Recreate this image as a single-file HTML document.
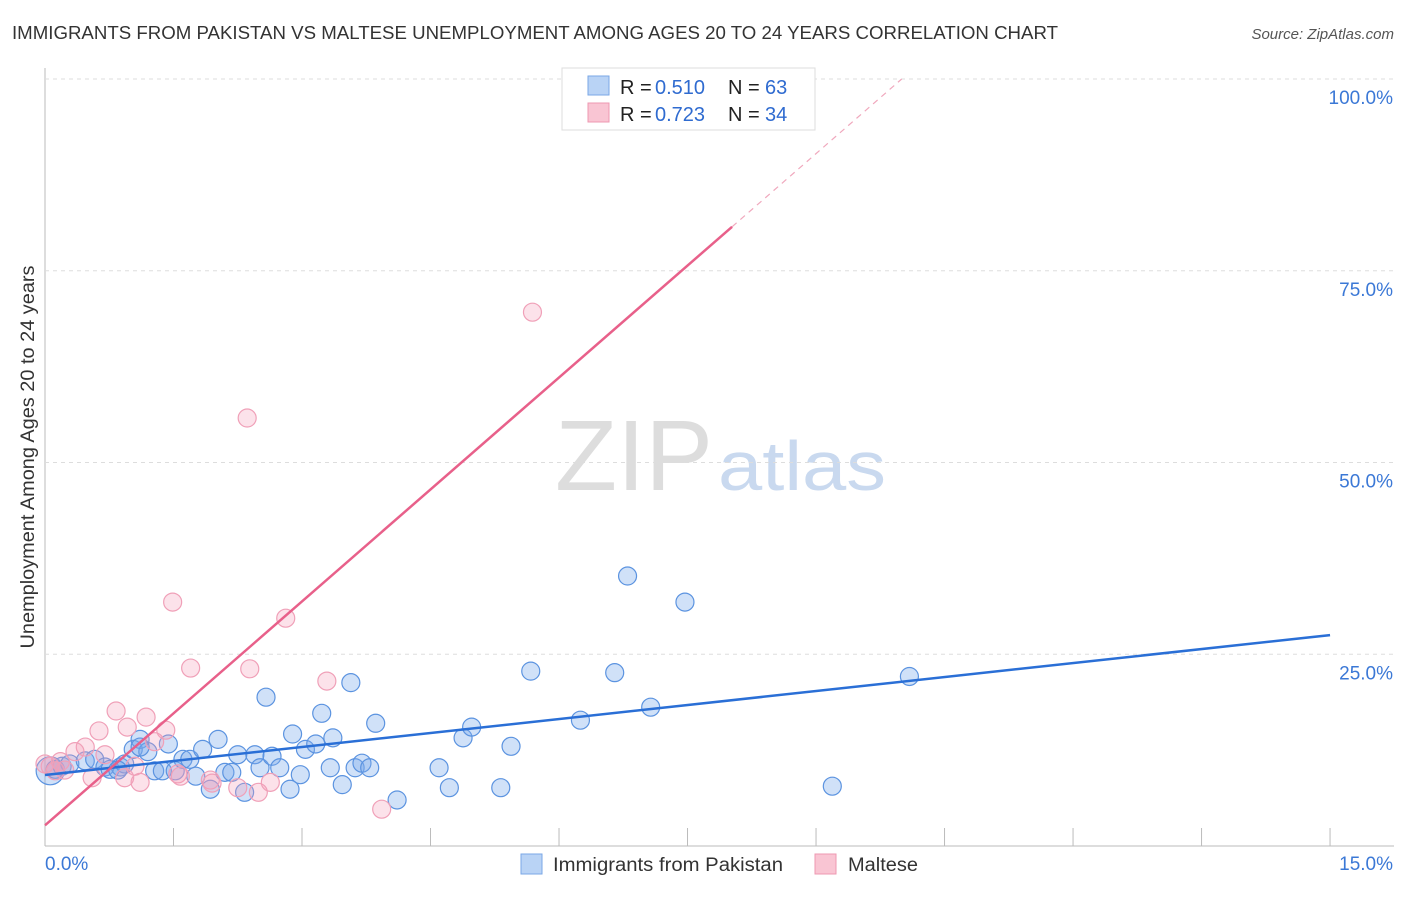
<!DOCTYPE html>
<html><head><meta charset="utf-8"><style>
body{margin:0;background:#fff;font-family:"Liberation Sans",sans-serif;}
svg text{font-family:"Liberation Sans",sans-serif;}
</style></head><body>
<svg id="chart" width="1406" height="892">
<text x="12" y="39" font-size="18" fill="#333" textLength="1046" lengthAdjust="spacingAndGlyphs">IMMIGRANTS FROM PAKISTAN VS MALTESE UNEMPLOYMENT AMONG AGES 20 TO 24 YEARS CORRELATION CHART</text>
<text x="1394" y="39" font-size="15" fill="#555" font-style="italic" text-anchor="end">Source: ZipAtlas.com</text>
<text x="555" y="490" font-size="100" fill="#ddd" font-family="Liberation Serif" textLength="158" lengthAdjust="spacingAndGlyphs">ZIP</text>
<text x="718" y="490" font-size="70" fill="#c9d9ef" textLength="168" lengthAdjust="spacingAndGlyphs">atlas</text>
<text transform="translate(34,457) rotate(-90)" font-size="19" fill="#333" text-anchor="middle" textLength="383" lengthAdjust="spacingAndGlyphs">Unemployment Among Ages 20 to 24 years</text>
<g id="grid"></g><g id="pts"></g><g id="lines"></g>
<g>
<rect x="562" y="68" width="253" height="62" fill="#fff" stroke="#ddd"/>
<rect x="588" y="76" width="21" height="19" fill="#b9d3f5" stroke="#7aa7e6"/>
<rect x="588" y="103" width="21" height="19" fill="#f9c5d3" stroke="#ee98b1"/>
<text x="620" y="94" font-size="20" fill="#222">R =</text>
<text x="655" y="94" font-size="20" fill="#2f6bd0">0.510</text>
<text x="728" y="94" font-size="20" fill="#222">N =</text>
<text x="765" y="94" font-size="20" fill="#2f6bd0">63</text>
<text x="620" y="121" font-size="20" fill="#222">R =</text>
<text x="655" y="121" font-size="20" fill="#2f6bd0">0.723</text>
<text x="728" y="121" font-size="20" fill="#222">N =</text>
<text x="765" y="121" font-size="20" fill="#2f6bd0">34</text>
</g>
<g>
<rect x="521" y="854" width="21" height="20" fill="#b9d3f5" stroke="#7aa7e6"/>
<text x="553" y="871" font-size="19" fill="#333" textLength="230" lengthAdjust="spacingAndGlyphs">Immigrants from Pakistan</text>
<rect x="815" y="854" width="21" height="20" fill="#f9c5d3" stroke="#ee98b1"/>
<text x="848" y="871" font-size="19" fill="#333" textLength="70" lengthAdjust="spacingAndGlyphs">Maltese</text>
</g>
</svg>
<script>
const xTickLabels=["0.0%","15.0%"];
const yTicks=[25,50,75,100];
const blueX=[0.06,0.12,0.2,0.29,0.47,0.58,0.70,0.76,0.88,0.93,1.03,1.11,1.20,1.28,1.37,1.44,1.52,1.61,1.69,1.76,1.84,1.93,2.02,2.10,2.18,2.25,2.33,2.45,2.51,2.58,2.65,2.74,2.86,2.89,2.98,3.04,3.16,3.23,3.33,3.36,3.47,3.57,3.62,3.70,3.79,3.86,4.11,4.60,4.72,4.88,4.98,5.32,5.44,5.67,6.25,6.65,6.80,7.07,7.47,9.19,10.09,1.11,0.85];
const blueY=[9.8,10.0,10.4,10.7,11.1,11.3,10.3,10.0,10.3,10.7,12.6,13.9,12.3,9.8,9.8,13.3,9.8,11.3,11.3,9.1,12.6,7.4,13.9,9.6,9.6,11.9,7.0,11.9,10.2,19.4,11.7,10.2,7.4,14.6,9.3,12.6,13.3,17.3,10.2,14.1,8.0,21.3,10.2,10.8,10.2,16.0,6.0,10.2,7.6,14.1,15.5,7.6,13.0,22.8,16.4,22.6,35.2,18.1,31.8,7.8,22.1,12.9,9.9];
const pinkX=[6.20,5.69,2.36,1.49,2.81,1.70,2.39,3.29,0.83,1.18,0.63,1.41,0.96,0.47,0.35,0.70,0.18,0.06,0.12,0.55,0.93,1.11,1.28,1.55,1.93,2.25,2.49,2.63,3.93,1.95,0.0,0.23,1.05,1.58];
const pinkY=[100,69.6,55.8,31.8,29.7,23.2,23.1,21.5,17.6,16.8,15.0,15.1,15.5,12.9,12.3,11.9,11.0,10.4,9.8,8.9,8.9,8.3,13.6,9.4,8.6,7.6,7.0,8.3,4.8,8.2,10.7,9.9,10.4,9.1];
const blueFit=[9.26,27.5];
const pinkFit=[2.7,9.73];
const X=v=>45+v*85.67, Y=v=>846-v*7.67;
const NS="http://www.w3.org/2000/svg";
function mk(t,a,p){const e=document.createElementNS(NS,t);for(const k in a)e.setAttribute(k,a[k]);p.appendChild(e);return e;}
const g=document.getElementById('grid');
const ax=mk('line',{x1:45,y1:68,x2:45,y2:846,stroke:'#bbb'},g);


const bx=mk('line',{x1:45,y1:846,x2:1394,y2:846,stroke:'#bbb'},g);


yTicks.forEach(t=>{
 const l=mk('line',{x1:45,y1:Y(t),x2:1394,y2:Y(t),stroke:'#ddd','stroke-dasharray':'4,4'},g);
 
 
 const tx=mk('text',{x:1393,y:Y(t)+25,'font-size':19,fill:'#3b78d6','text-anchor':'end'},g);
 tx.textContent=t.toFixed(1)+'%';
 
 
});
for(let i=1;i<=10;i++){
 const tk=mk('line',{x1:X(i*1.5),y1:828,x2:X(i*1.5),y2:846,stroke:'#bbb'},g);
 
 
}
[[0,45,'start'],[15,1393,'end']].forEach((d,i)=>{
 const tx=mk('text',{x:d[1],y:870,'font-size':19,fill:'#3b78d6','text-anchor':d[2]},g);
 tx.textContent=xTickLabels[i];
 
 
});
const p=document.getElementById('pts');
blueX.forEach((x,i)=>{
 const c=mk('circle',{cx:X(x),cy:Y(blueY[i]),r:i==0?14:9,fill:'rgba(120,170,235,0.35)',stroke:'#5b93e0','stroke-width':1.2},p);
 
 
});
pinkX.forEach((x,i)=>{
 const c=mk('circle',{cx:X(x),cy:Y(pinkY[i]),r:9,fill:'rgba(245,160,185,0.3)',stroke:'#f0a0b8','stroke-width':1.2},p);
 
 
});
const L=document.getElementById('lines');
const bl=mk('line',{x1:X(0),y1:Y(blueFit[0]),x2:X(15),y2:Y(blueFit[1]),stroke:'#2a6fd6','stroke-width':2.5},L);


const pf=x=>pinkFit[0]+pinkFit[1]*x;
const xEnd=8.02, xTop=(100-pinkFit[0])/pinkFit[1];
const pl=mk('line',{x1:X(0),y1:Y(pf(0)),x2:X(xEnd),y2:Y(pf(xEnd)),stroke:'#e8608a','stroke-width':2.5},L);


const pd=mk('line',{x1:X(xEnd),y1:Y(pf(xEnd)),x2:X(xTop),y2:Y(100),stroke:'#f0a8bd','stroke-width':1.2,'stroke-dasharray':'6,5'},L);


</script>
</body></html>
